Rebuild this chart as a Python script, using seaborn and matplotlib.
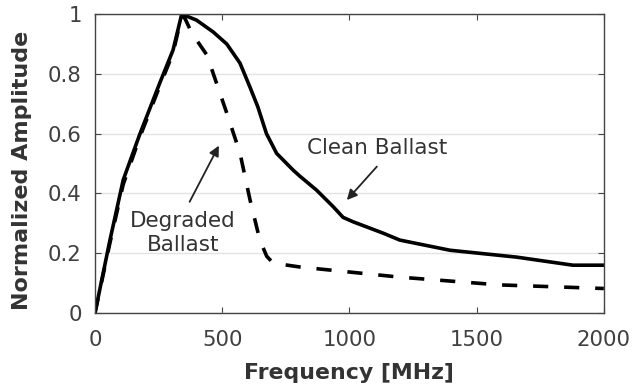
import matplotlib
matplotlib.use("Agg")
import matplotlib.pyplot as plt
import seaborn as sns
import pandas as pd

clean_freq = [0, 59, 111, 177, 255, 307, 341, 399, 465, 518, 570, 609, 640, 674, 714, 779,
              805, 871, 936, 975, 1015, 1133, 1198, 1395, 1657, 1878, 2000]
clean_amp = [0.0, 0.244, 0.445, 0.60, 0.77, 0.88, 1.0, 0.98, 0.94, 0.90, 0.836, 0.756, 0.69,
             0.60, 0.534, 0.478, 0.458, 0.411, 0.356, 0.32, 0.305, 0.267, 0.244, 0.21, 0.187,
             0.16, 0.16]

degraded_freq = [0, 59, 111, 177, 255, 307, 341, 354, 381, 440, 483, 518, 570, 609, 648, 675,
                 700, 805, 1198, 1591, 2000]
degraded_amp = [0.0, 0.235, 0.43, 0.59, 0.76, 0.87, 0.995, 0.985, 0.936, 0.863, 0.756, 0.669,
                0.535, 0.38, 0.244, 0.19, 0.167, 0.154, 0.12, 0.094, 0.082]

x_ticks = [0, 500, 1000, 1500, 2000]
y_ticks = [0, 0.2, 0.4, 0.6, 0.8, 1.0]
y_tick_labels = ["0", "0.2", "0.4", "0.6", "0.8", "1"]

sns.set_style("whitegrid")
plt.rcParams['font.family'] = ['DejaVu Sans']

fig = plt.figure(figsize=(6.33, 3.92), dpi=100)
ax = fig.add_axes([0.150, 0.2015, 0.804, 0.7625])

df_c = pd.DataFrame({"f": clean_freq, "a": clean_amp})
df_d = pd.DataFrame({"f": degraded_freq, "a": degraded_amp})
sns.lineplot(data=df_c, x="f", y="a", ax=ax, color="black", linewidth=2.6, sort=False)
sns.lineplot(data=df_d, x="f", y="a", ax=ax, color="black", linewidth=2.6, sort=False)
ax.lines[-1].set_dashes([4.2, 4.4])
for ln in ax.lines:
    ln.set_solid_joinstyle("round")
    ln.set_dash_joinstyle("round")
    ln.set_dash_capstyle("butt")

ax.set_xlim(0, 2000)
ax.set_ylim(0, 1)
ax.set_xticks(x_ticks)
ax.set_yticks(y_ticks)
ax.set_yticklabels(y_tick_labels)
ax.grid(axis="x", visible=False)
ax.grid(axis="y", color="#e2e2e2", linewidth=1)
for s in ax.spines.values():
    s.set_color("#444444")
    s.set_linewidth(1.0)
ax.tick_params(direction="in", length=4, width=0.8, color="#444444",
               labelsize=15.3, labelcolor="#404040", top=True, right=True,
               bottom=True, left=True, labeltop=False, labelright=False)
ax.tick_params(axis="x", pad=12)
ax.tick_params(axis="y", pad=9.5)
ax.set_xlabel("Frequency [MHz]", fontsize=15.8, fontweight="bold", color="#333333")
ax.set_ylabel("Normalized Amplitude", fontsize=16, fontweight="bold", color="#333333")
ax.xaxis.set_label_coords(0.5, -0.168)
ax.yaxis.set_label_coords(-0.124, 0.477)

arrow = dict(arrowstyle="-|>", color="#222222", lw=1.3, mutation_scale=15, shrinkA=0, shrinkB=0)
ax.text(1108, 0.552, "Clean Ballast", fontsize=15.5, color="#333333", ha="center", va="center")
ax.annotate("", xy=(990, 0.378), xytext=(1108, 0.49), arrowprops=arrow)
ax.text(346, 0.268, "Degraded\nBallast", fontsize=15.5, color="#333333", ha="center",
        va="center", linespacing=1.3)
ax.annotate("", xy=(487, 0.56), xytext=(372, 0.372), arrowprops=arrow)

fig.savefig("out.png", dpi=100)
